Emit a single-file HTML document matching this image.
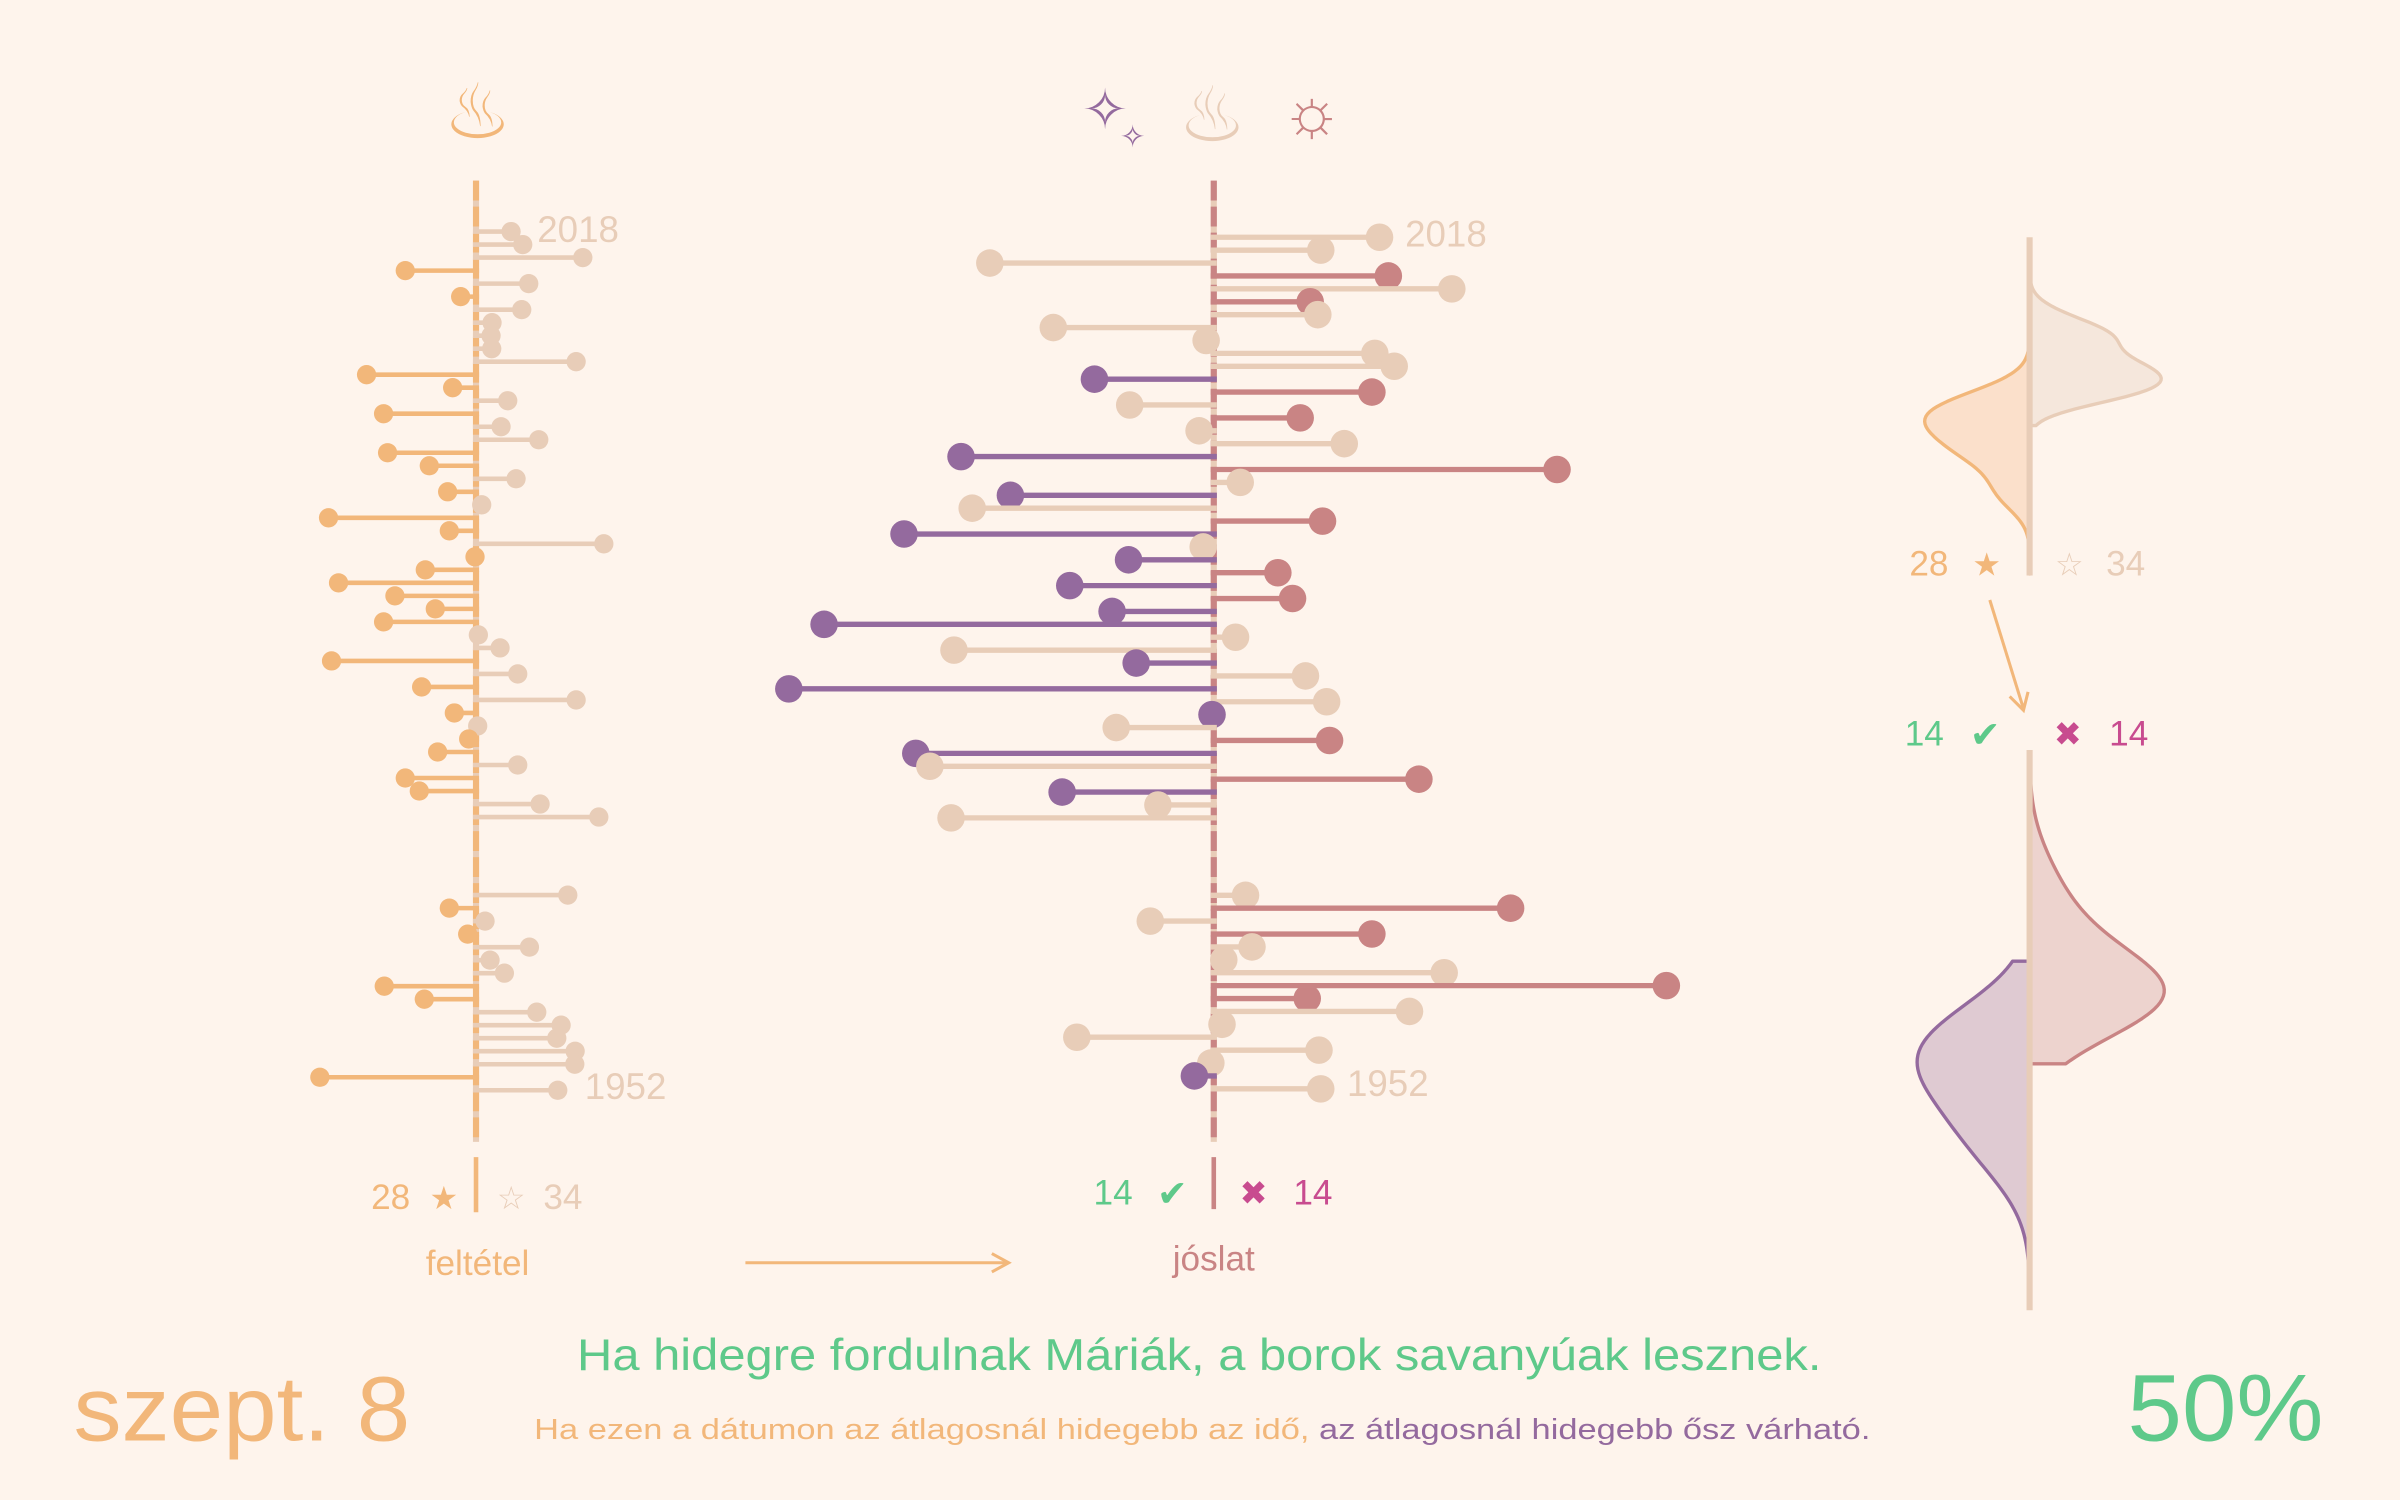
<!DOCTYPE html>
<html><head><meta charset="utf-8"><style>
html,body{margin:0;padding:0;background:#fef4ec;}
svg{display:block;}
text{font-family:"Liberation Sans",sans-serif;}
</style></head><body>
<svg id="chart" xmlns="http://www.w3.org/2000/svg" width="2400" height="1500" viewBox="0 0 1568 980" preserveAspectRatio="none">
<rect x="0" y="0" width="1568" height="980" fill="#fef4ec"/>
<g id="left"></g>
<g id="mid"></g>
<g id="dens"></g>

<text x="312" y="90" font-size="50" fill="#f2b77a" text-anchor="middle" font-family="DejaVu Sans">♨</text>
<text x="722" y="84" font-size="36" fill="#946a9e" text-anchor="middle" font-family="DejaVu Sans">✧</text>
<text x="740" y="96" font-size="20" fill="#946a9e" text-anchor="middle" font-family="DejaVu Sans">✧</text>
<text x="792" y="92" font-size="50" fill="#e8cdb8" text-anchor="middle" font-family="DejaVu Sans">♨</text>
<text x="857" y="88" font-size="44" fill="#c98484" text-anchor="middle" font-family="DejaVu Sans">☼</text>

<text x="351" y="158" font-size="24" fill="#e8cdb8">2018</text>
<text x="382" y="718" font-size="24" fill="#e8cdb8">1952</text>
<text x="918" y="161" font-size="24" fill="#e8cdb8">2018</text>
<text x="880" y="716" font-size="24" fill="#e8cdb8">1952</text>

<line x1="311" y1="756" x2="311" y2="792" stroke="#f2b77a" stroke-width="3"/>
<text x="268" y="790" font-size="23" fill="#f2b77a" text-anchor="end">28</text>
<text x="290" y="790" font-size="21" fill="#f2b77a" text-anchor="middle" font-family="DejaVu Sans">★</text>
<text x="334" y="790" font-size="21" fill="#e8cdb8" text-anchor="middle" font-family="DejaVu Sans">☆</text>
<text x="355" y="790" font-size="23" fill="#e8cdb8">34</text>
<text x="312" y="833" font-size="23" fill="#f2b77a" text-anchor="middle">feltétel</text>
<line x1="487" y1="825" x2="658" y2="825" stroke="#f2b77a" stroke-width="2"/>
<path d="M648,819 L659,825 L648,831" fill="none" stroke="#f2b77a" stroke-width="2"/>

<line x1="793" y1="756" x2="793" y2="790" stroke="#c98484" stroke-width="3"/>
<text x="740" y="787" font-size="23" fill="#5ec98a" text-anchor="end">14</text>
<text x="766" y="788" font-size="24" fill="#5ec98a" text-anchor="middle" font-family="DejaVu Sans">✔</text>
<text x="819" y="787" font-size="22" fill="#c84b8f" text-anchor="middle" font-family="DejaVu Sans">✖</text>
<text x="845" y="787" font-size="23" fill="#c84b8f">14</text>
<text x="793" y="830" font-size="23" fill="#c98484" text-anchor="middle">jóslat</text>

<text x="1273" y="376" font-size="23" fill="#f2b77a" text-anchor="end">28</text>
<text x="1298" y="376" font-size="21" fill="#f2b77a" text-anchor="middle" font-family="DejaVu Sans">★</text>
<text x="1352" y="376" font-size="21" fill="#e8cdb8" text-anchor="middle" font-family="DejaVu Sans">☆</text>
<text x="1376" y="376" font-size="23" fill="#e8cdb8">34</text>
<line x1="1300" y1="392" x2="1322" y2="463" stroke="#f2b77a" stroke-width="2"/>
<path d="M1313,455 L1322,464 L1325,452" fill="none" stroke="#f2b77a" stroke-width="2"/>
<text x="1270" y="487" font-size="23" fill="#5ec98a" text-anchor="end">14</text>
<text x="1297" y="488" font-size="24" fill="#5ec98a" text-anchor="middle" font-family="DejaVu Sans">✔</text>
<text x="1351" y="487" font-size="22" fill="#c84b8f" text-anchor="middle" font-family="DejaVu Sans">✖</text>
<text x="1378" y="487" font-size="23" fill="#c84b8f">14</text>

<text x="377" y="895" font-size="29" fill="#5ec98a" textLength="813" lengthAdjust="spacingAndGlyphs">Ha hidegre fordulnak Máriák, a borok savanyúak lesznek.</text>
<text x="349" y="940" font-size="19" textLength="873" lengthAdjust="spacingAndGlyphs"><tspan fill="#f2b77a">Ha ezen a dátumon az átlagosnál hidegebb az idő, </tspan><tspan fill="#946a9e">az átlagosnál hidegebb ősz várható.</tspan></text>
<text x="48" y="941" font-size="60" fill="#f2b77a" textLength="220" lengthAdjust="spacingAndGlyphs">szept. 8</text>
<text x="1390" y="941" font-size="62" fill="#5ec98a" textLength="128" lengthAdjust="spacingAndGlyphs">50%</text>
</svg>
<script>
// years 2018 → 1952; null = missing year
const years = [];
for (let y = 2018; y >= 1952; y--) years.push(y);
const condValues = [1.05,1.40,3.20,-2.12,1.58,-0.46,1.37,0.48,0.45,0.47,3.00,-3.28,-0.70,0.95,-2.77,0.75,1.88,-2.65,-1.40,1.20,-0.85,0.17,-4.42,-0.80,3.83,-0.03,-1.52,-4.12,-2.43,-1.22,-2.77,0.07,0.72,-4.33,1.25,-1.63,3.00,-0.65,0.05,-0.22,-1.15,1.25,-2.12,-1.70,1.92,3.68,null,null,null,null,null,2.75,-0.80,0.27,-0.25,1.60,0.42,0.85,-2.75,-1.55,1.82,2.55,2.42,2.97,2.96,-4.68,2.45];
const predValues = [2.82,1.82,-3.81,2.97,4.05,1.64,1.77,-2.73,-0.13,2.74,3.07,-2.03,2.69,-1.43,1.47,-0.25,2.22,-4.30,5.84,0.45,-3.46,-4.11,1.85,-5.27,-0.18,-1.45,1.09,-2.45,1.34,-1.73,-6.63,0.37,-4.42,-1.32,1.56,-7.23,1.92,-0.03,-1.66,1.97,-5.07,-4.83,3.49,-2.58,-0.95,-4.47,null,null,null,null,null,0.54,5.05,-1.08,2.69,0.65,0.17,3.92,7.70,1.59,3.33,0.14,-2.33,1.79,-0.05,-0.33,1.82];

const NS = "http://www.w3.org/2000/svg";
const C = {orange:"#f2b77a", beige:"#e8cdb8", rose:"#c98484", purple:"#946a9e"};
function mk(parent, tag, attrs){ const e=document.createElementNS(NS,tag); for(const k in attrs) e.setAttribute(k,attrs[k]); parent.appendChild(e); return e; }

// axis functions
const leftX = v => 311 + v*21.8;
const leftY = yr => 151.3 + (2018-yr)*8.5;
const midX = v => 793 + v*38.4;
const midY = yr => 155 + (2018-yr)*8.43;

const L = document.getElementById('left');
let ax = mk(L,'line',{x1:311,y1:118,x2:311,y2:746,stroke:C.beige,'stroke-width':4});


ax = mk(L,'line',{x1:311,y1:118,x2:311,y2:746,stroke:C.orange,'stroke-width':4,'stroke-dasharray':'13 4'});


years.forEach((yr,i)=>{
  const v = condValues[i]; if (v===null) return;
  const col = v<0 ? C.orange : C.beige;
  const y = leftY(yr);
  const g = mk(L,'g',{});
  
  
  mk(g,'line',{x1:v<0?313:309,y1:y,x2:leftX(v),y2:y,stroke:col,'stroke-width':3});
  mk(g,'circle',{cx:leftX(v),cy:y,r:6.3,fill:col});
});

const M = document.getElementById('mid');
ax = mk(M,'line',{x1:793,y1:118,x2:793,y2:746,stroke:C.beige,'stroke-width':4});


ax = mk(M,'line',{x1:793,y1:118,x2:793,y2:746,stroke:C.rose,'stroke-width':4,'stroke-dasharray':'13 4'});


years.forEach((yr,i)=>{
  const v = predValues[i]; const c = condValues[i]; if (v===null) return;
  const col = c<0 ? (v<0 ? C.purple : C.rose) : C.beige;
  const y = midY(yr);
  const g = mk(M,'g',{});
  
  
  mk(g,'line',{x1:v<0?795:791,y1:y,x2:midX(v),y2:y,stroke:col,'stroke-width':3.5});
  mk(g,'circle',{cx:midX(v),cy:y,r:9,fill:col});
});

// densities
const D = document.getElementById('dens');
function kde(vals,h,v){ let s=0; for(const x of vals) s+=Math.exp(-0.5*((v-x)/h)**2); return s; }
const mean = a => a.reduce((s,x)=>s+x,0)/a.length;
function half(vals,h,yMid,pxU,yTop,yBot,side,k,stroke,fill,name){
  const m = mean(vals);
  const vAt = y => m + (yMid - y)/pxU;
  let d = `M1326,${yTop}`;
  const n=90;
  for(let j=0;j<=n;j++){ const y=yTop+(yBot-yTop)*j/n; d+=` L${1326+side*k*kde(vals,h,vAt(y))},${y}`; }
  d+=` L1326,${yBot} Z`;
  const p = mk(D,'path',{d:d,fill:fill,stroke:stroke,'stroke-width':2.2,'stroke-linejoin':'round'});
  
  
}
function peak(vals,h){ let mx=0; for(let v=Math.min(...vals)-1; v<=Math.max(...vals)+1; v+=0.05) mx=Math.max(mx,kde(vals,h,v)); return mx; }
const condCold = condValues.filter(v=>v!==null && v<0);
const condWarm = condValues.filter(v=>v!==null && v>=0);
const predCold = predValues.filter((v,i)=>v!==null && condValues[i]<0 && v<0);
const predWarm = predValues.filter((v,i)=>v!==null && condValues[i]<0 && v>=0);
// top
{
  const pxU=15;
  const k = 86/Math.max(peak(condWarm,0.6), peak(condCold,0.8));
  half(condWarm,0.6,238,pxU,157,278,1,k,C.beige,"#f5e7dc","warm-condition-density");
  half(condCold,0.8,285,pxU,228,375,-1,0.85*k,C.orange,"#fbe0cb","cold-condition-density");
  const a = mk(D,'line',{x1:1326,y1:155,x2:1326,y2:376,stroke:C.beige,'stroke-width':4});
  
  
}
// bottom
{
  const pxU=14, h=1.9;
  const k = 88/Math.max(peak(predWarm,h), peak(predCold,h));
  half(predWarm,h,637,pxU,505,695,1,k,C.rose,"#edd3ce","wrong-prediction-density");
  half(predCold,h,705,pxU,628,840,-1,k,C.purple,"#dfcad2","correct-prediction-density");
  const a = mk(D,'line',{x1:1326,y1:490,x2:1326,y2:856,stroke:C.beige,'stroke-width':4});
  
  
}
</script>
</body></html>
